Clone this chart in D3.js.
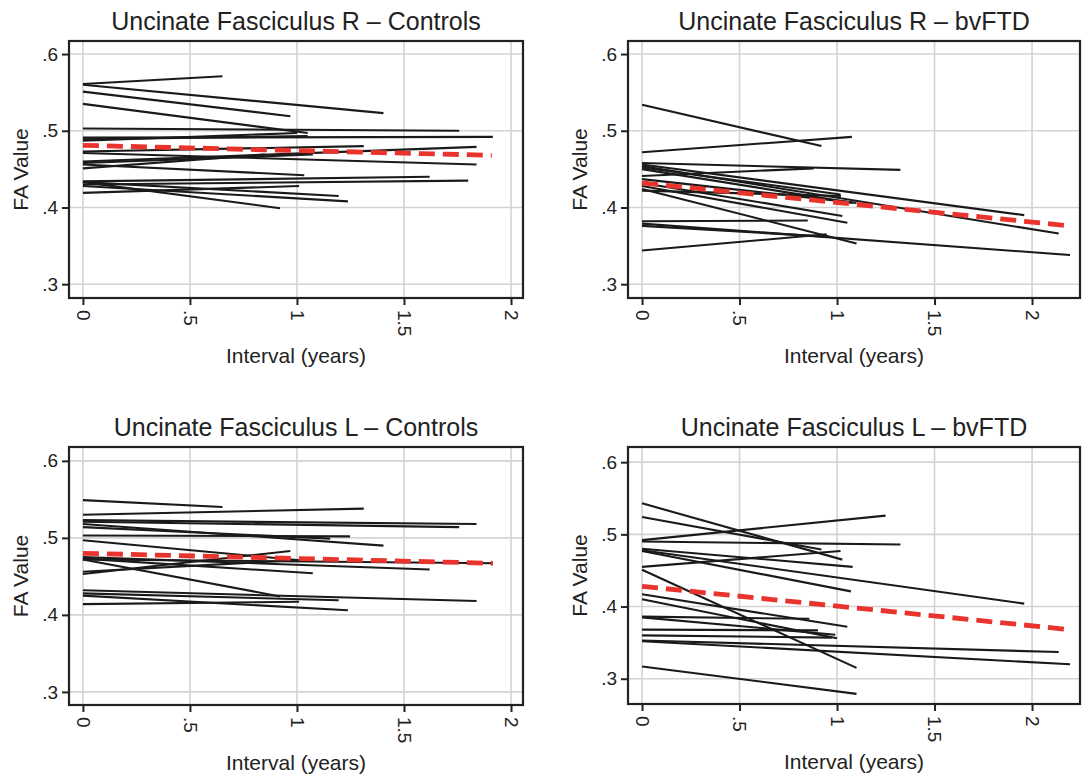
<!DOCTYPE html>
<html>
<head>
<meta charset="utf-8">
<script src="https://cdn.jsdelivr.net/npm/d3@7"></script>
<style>
  body { margin: 0; background: #fff; }
  svg { display: block; font-family: "Liberation Sans", Arial, sans-serif; }
  .grid line { stroke: #d3d3d3; stroke-width: 1.6; }
  .subj { stroke: #1a1a1a; stroke-width: 2.1; fill: none; }
  .fit { stroke: #e8342c; stroke-width: 4.8; stroke-dasharray: 16,8; fill: none; }
</style>
</head>
<body>
<div id="cont"></div>
<script>

// panel titles
var titles = [
  "Uncinate Fasciculus R \u2013 Controls",
  "Uncinate Fasciculus R \u2013 bvFTD",
  "Uncinate Fasciculus L \u2013 Controls",
  "Uncinate Fasciculus L \u2013 bvFTD"
];

var xTicks = [0, 0.5, 1, 1.5, 2];
var xTickLabels = ["0", ".5", "1", "1.5", "2"];
var yTicks = [0.3, 0.4, 0.5, 0.6];
var yTickLabels = [".3", ".4", ".5", ".6"];

// each subject: [interval (years), FA at baseline, FA at follow-up]
var ufRControls = [
  [0.652, 0.561, 0.571], [1.404, 0.560, 0.523], [0.969, 0.551, 0.519],
  [1.05, 0.535, 0.497], [1.758, 0.503, 0.500], [1.915, 0.491, 0.492],
  [1.0, 0.487, 0.497], [1.05, 0.489, 0.493], [1.312, 0.473, 0.480],
  [1.839, 0.471, 0.456], [1.839, 0.460, 0.479], [1.074, 0.458, 0.469],
  [0.85, 0.451, 0.469], [1.034, 0.456, 0.442], [1.62, 0.434, 0.440],
  [1.80, 0.430, 0.435], [1.195, 0.433, 0.415], [1.238, 0.428, 0.408],
  [0.921, 0.433, 0.399], [1.01, 0.419, 0.428]
];
var ufRbvFTD = [
  [0.92, 0.534, 0.480], [1.076, 0.472, 0.492], [1.325, 0.458, 0.449],
  [1.96, 0.456, 0.390], [2.137, 0.454, 0.366], [1.018, 0.452, 0.417],
  [1.08, 0.450, 0.406], [0.88, 0.441, 0.451], [1.10, 0.437, 0.406],
  [1.027, 0.432, 0.389], [1.053, 0.428, 0.380], [1.10, 0.424, 0.353],
  [1.02, 0.422, 0.415], [0.85, 0.382, 0.383], [2.195, 0.379, 0.338],
  [0.947, 0.376, 0.362], [0.947, 0.344, 0.365]
];
var ufLControls = [
  [0.652, 0.549, 0.540], [1.312, 0.530, 0.538], [1.839, 0.523, 0.518],
  [1.758, 0.521, 0.514], [1.404, 0.518, 0.490], [1.155, 0.514, 0.499],
  [1.248, 0.503, 0.502], [1.05, 0.497, 0.470], [1.62, 0.475, 0.459],
  [1.915, 0.472, 0.467], [1.074, 0.473, 0.454], [0.969, 0.453, 0.483],
  [1.0, 0.456, 0.471], [0.921, 0.472, 0.424], [1.839, 0.432, 0.418],
  [1.195, 0.428, 0.419], [1.238, 0.425, 0.406], [1.01, 0.414, 0.417]
];
var ufLbvFTD = [
  [1.027, 0.543, 0.465], [0.92, 0.524, 0.479], [1.249, 0.492, 0.526],
  [1.325, 0.490, 0.486], [1.08, 0.480, 0.455], [1.96, 0.478, 0.404],
  [1.071, 0.477, 0.421], [1.018, 0.455, 0.477], [1.10, 0.451, 0.315],
  [1.053, 0.417, 0.372], [1.0, 0.410, 0.356], [0.858, 0.386, 0.383],
  [0.991, 0.385, 0.361], [0.902, 0.368, 0.367], [0.973, 0.360, 0.357],
  [2.137, 0.353, 0.337], [2.195, 0.352, 0.320], [1.10, 0.317, 0.279]
];

// group mean trajectories (red dashed)
var fits = [
  [1.91, 0.481, 0.468],
  [2.195, 0.432, 0.376],
  [1.915, 0.480, 0.467],
  [2.195, 0.428, 0.368]
];

var subjects = [ufRControls, ufRbvFTD, ufLControls, ufLbvFTD];

var panels = [
  { frame: [69, 523, 41, 298], xDom: [-0.065, 2.056], yDom: [0.282, 0.617] },
  { frame: [628, 1080, 41, 298], xDom: [-0.072, 2.246], yDom: [0.282, 0.617] },
  { frame: [69, 523, 447, 705], xDom: [-0.065, 2.056], yDom: [0.283, 0.618] },
  { frame: [628, 1080, 447, 704], xDom: [-0.072, 2.246], yDom: [0.265, 0.621] }
];

var svg = d3.select("#cont").append("svg")
  .attr("width", 1082)
  .attr("height", 778);

panels.forEach(function(p, i) {
  var x0 = p.frame[0], x1 = p.frame[1], y0 = p.frame[2], y1 = p.frame[3];

  var xScale = d3.scaleLinear().domain(p.xDom).range([x0, x1]);
  var yScale = d3.scaleLinear().domain(p.yDom).range([y1, y0]);

  var g = svg.append("g");

  // grid
  var grid = g.append("g").attr("class", "grid");
  grid.selectAll(".gx")
    .data(xTicks)
    .enter().append("line")
    .attr("x1", function(d) { return xScale(d); })
    .attr("x2", function(d) { return xScale(d); })
    .attr("y1", y0)
    .attr("y2", y1);
  grid.selectAll(".gy")
    .data(yTicks)
    .enter().append("line")
    .attr("x1", x0)
    .attr("x2", x1)
    .attr("y1", function(d) { return yScale(d); })
    .attr("y2", function(d) { return yScale(d); });

  // subject lines
  g.selectAll(".subj")
    .data(subjects[i])
    .enter().append("line")
    .attr("class", "subj")
    .attr("x1", xScale(0))
    .attr("y1", function(d) { return yScale(d[1]); })
    .attr("x2", function(d) { return xScale(d[0]); })
    .attr("y2", function(d) { return yScale(d[2]); });

  // fitted mean
  var f = fits[i];
  g.append("line")
    .attr("class", "fit")
    .attr("x1", xScale(0))
    .attr("y1", yScale(f[1]))
    .attr("x2", xScale(f[0]))
    .attr("y2", yScale(f[2]));

  // axes
  var xAxis = g.append("g")
    .attr("transform", "translate(0," + y1 + ")")
    .call(d3.axisBottom(xScale)
      .tickValues(xTicks)
      .tickSize(7)
      .tickFormat(function(d, k) { return xTickLabels[k]; })
    );
  xAxis.select(".domain").remove();
  xAxis.selectAll("line").attr("stroke", "#222").attr("stroke-width", 2);
  xAxis.selectAll("text")
    .attr("font-size", 19)
    .attr("fill", "#222")
    .style("text-anchor", "start")
    .attr("x", 12)
    .attr("y", 0)
    .attr("dy", "0.36em")
    .attr("transform", "rotate(90)");

  var yAxis = g.append("g")
    .attr("transform", "translate(" + x0 + ",0)")
    .call(d3.axisLeft(yScale)
      .tickValues(yTicks)
      .tickSize(7)
      .tickPadding(4)
      .tickFormat(function(d, k) { return yTickLabels[k]; })
    );
  yAxis.select(".domain").remove();
  yAxis.selectAll("line").attr("stroke", "#222").attr("stroke-width", 2);
  yAxis.selectAll("text")
    .attr("font-size", 19)
    .attr("fill", "#222");

  // frame
  g.append("rect")
    .attr("x", x0)
    .attr("y", y0)
    .attr("width", x1 - x0)
    .attr("height", y1 - y0)
    .attr("fill", "none")
    .attr("stroke", "#222")
    .attr("stroke-width", 2.2);

  // titles
  g.append("text")
    .attr("x", (x0 + x1) / 2)
    .attr("y", y0 - 11)
    .attr("text-anchor", "middle")
    .attr("font-size", 25)
    .attr("fill", "#222")
    .text(titles[i]);

  g.append("text")
    .attr("x", (x0 + x1) / 2)
    .attr("y", y1 + 65)
    .attr("text-anchor", "middle")
    .attr("font-size", 21)
    .attr("fill", "#222")
    .text("Interval (years)");

  g.append("text")
    .attr("transform", "translate(" + (x0 - 41) + "," + ((y0 + y1) / 2) + ") rotate(-90)")
    .attr("text-anchor", "middle")
    .attr("font-size", 21)
    .attr("fill", "#222")
    .text("FA Value");
});

</script>
</body>
</html>
